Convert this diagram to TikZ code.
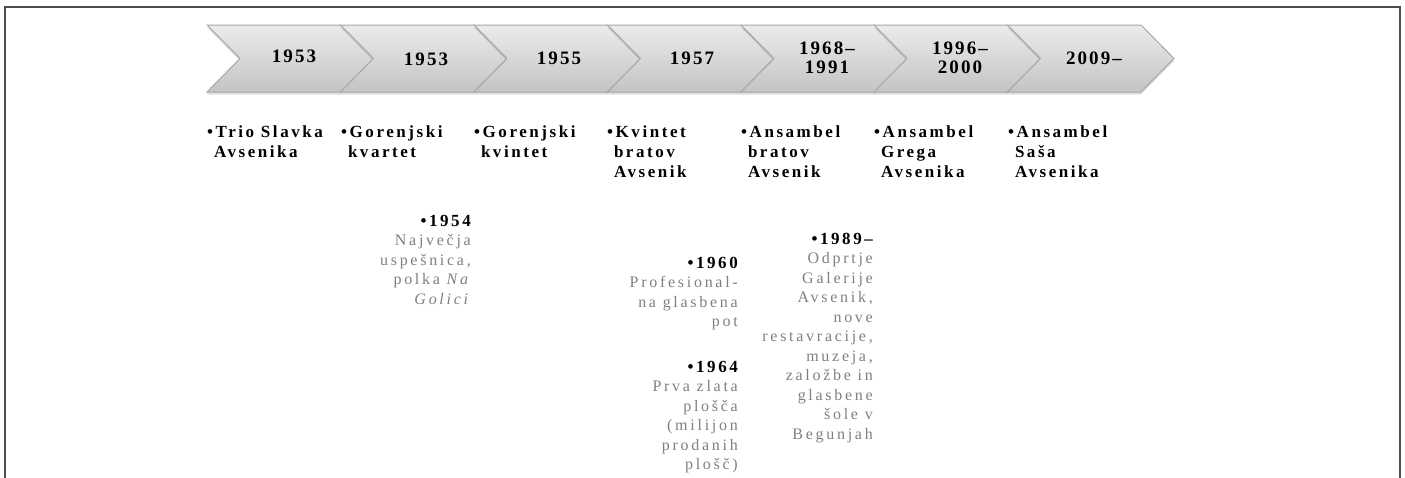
\documentclass[tikz,border=0pt]{standalone}
\usepackage{fontspec}
\setmainfont{Liberation Serif}
\newfontfamily\widefont{Liberation Serif}[LetterSpace=15]
\newfontfamily\notefont{Liberation Serif}[LetterSpace=17]
\newfontfamily\yearfont{Liberation Serif}[LetterSpace=11]
\usetikzlibrary{shadows}
\definecolor{frame}{HTML}{4D4D4D}
\definecolor{chevtop}{HTML}{EBEBEB}
\definecolor{chevbot}{HTML}{C4C4C4}
\definecolor{chevline}{HTML}{A8A8A8}
\definecolor{note}{HTML}{7F7F7F}
\begin{document}
\begin{tikzpicture}[x=1pt,y=-1pt,
    chev/.style={draw=chevline,line width=1pt,top color=chevtop,bottom color=chevbot,
      drop shadow={opacity=.25,shadow xshift=0pt,shadow yshift=-2.5pt}},
    yr/.style={font=\yearfont\bfseries\fontsize{19}{19}\selectfont,align=center,inner sep=0pt},
    band/.style={font=\widefont\bfseries\fontsize{17}{20}\selectfont,align=left,anchor=base west,inner sep=0pt},
    event/.style={font=\notefont\fontsize{16}{19.5}\selectfont,text=note,align=right,anchor=base east,inner sep=0pt}]
  \useasboundingbox (0,0) rectangle (1405,477);
  \draw[frame,line width=1.6pt] (5,490) -- (5,7) -- (1400,7) -- (1400,490);
  % chevrons
  \draw[chev] (207,25) -- ++(133.5,0) -- ++(33,33.5) -- ++(-33,33.5) -- ++(-133.5,0) -- ++(33,-33.5) -- cycle;
  \draw[chev] (340.5,25) -- ++(133.5,0) -- ++(33,33.5) -- ++(-33,33.5) -- ++(-133.5,0) -- ++(33,-33.5) -- cycle;
  \draw[chev] (474,25) -- ++(133.5,0) -- ++(33,33.5) -- ++(-33,33.5) -- ++(-133.5,0) -- ++(33,-33.5) -- cycle;
  \draw[chev] (607.5,25) -- ++(133.5,0) -- ++(33,33.5) -- ++(-33,33.5) -- ++(-133.5,0) -- ++(33,-33.5) -- cycle;
  \draw[chev] (741,25) -- ++(133.5,0) -- ++(33,33.5) -- ++(-33,33.5) -- ++(-133.5,0) -- ++(33,-33.5) -- cycle;
  \draw[chev] (874,25) -- ++(133.5,0) -- ++(33,33.5) -- ++(-33,33.5) -- ++(-133.5,0) -- ++(33,-33.5) -- cycle;
  \draw[chev] (1007.5,25) -- ++(133.5,0) -- ++(33,33.5) -- ++(-33,33.5) -- ++(-133.5,0) -- ++(33,-33.5) -- cycle;
  % years
  \node[yr] (y1953a) at (294,56) {1953};
  \node[yr] (y1953b) at (426,59) {1953};
  \node[yr] (y1955) at (559,58.5) {1955};
  \node[yr] (y1957) at (692,58.5) {1957};
  \node[yr] (y1968) at (827,57.5) {1968–\\1991};
  \node[yr] (y1996) at (960,57.5) {1996–\\2000};
  \node[yr] (y2009) at (1094,58) {2009–};
  % bands (base = last line)
  \node[band] (trio) at (207,157) {•Trio Slavka\\\ Avsenika};
  \node[band] (kvartet) at (341,157) {•Gorenjski\\\ kvartet};
  \node[band] (kvintet) at (474,157) {•Gorenjski\\\ kvintet};
  \node[band] (bratov) at (607,177) {•Kvintet\\\ bratov\\\ Avsenik};
  \node[band] (ansambel) at (741,177) {•Ansambel\\\ bratov\\\ Avsenik};
  \node[band] (grega) at (874,177) {•Ansambel\\\ Grega\\\ Avsenika};
  \node[band] (sasa) at (1008,177) {•Ansambel\\\ Saša\\\ Avsenika};
  % events (base = last line)
  \node[event] (e1954) at (471,304) {{\color{black}\widefont\bfseries\fontsize{17}{19.5}\selectfont•1954}\\Največja\\uspešnica,\\polka \textit{Na}\\\textit{Golici}};
  \node[event] (e1960) at (738,326.5) {{\color{black}\widefont\bfseries\fontsize{17}{19.5}\selectfont•1960}\\Profesional-\\na glasbena\\pot};
  \node[event] (e1964) at (738,469.5) {{\color{black}\widefont\bfseries\fontsize{17}{19.5}\selectfont•1964}\\Prva zlata\\plošča\\(milijon\\prodanih\\plošč)};
  \node[event] (e1989) at (873,439) {{\color{black}\widefont\bfseries\fontsize{17}{19.5}\selectfont•1989–}\\Odprtje\\Galerije\\Avsenik,\\nove\\restavracije,\\muzeja,\\založbe in\\glasbene\\šole v\\Begunjah};
\end{tikzpicture}
\end{document}
